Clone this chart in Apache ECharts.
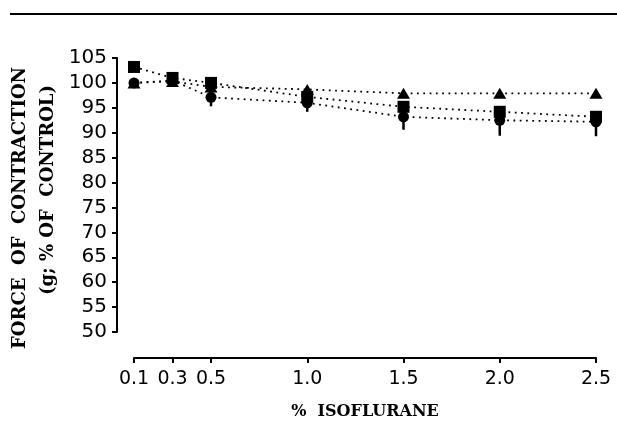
<!DOCTYPE html>
<html>
<head>
<meta charset="utf-8">
<script src="https://cdn.jsdelivr.net/npm/echarts@6/dist/echarts.min.js"></script>
<style>
  html, body { margin: 0; padding: 0; background: #fff; }
  #chart { width: 617px; height: 425px; }
</style>
</head>
<body>
<div id="chart"></div>
<script>
// isoflurane concentration (%)
var doses = [0.1, 0.3, 0.5, 1.0, 1.5, 2.0, 2.5];
var xTicks = [0.1, 0.3, 0.5, 1.0, 1.5, 2.0, 2.5];

// force of contraction, % of control
var squares   = [103.2, 101.0, 100.0, 97.2, 95.2, 94.2, 93.2];
var triangles = [100.0, 100.3, 99.2, 98.7, 97.9, 97.9, 97.9];
var circles   = [100.0, 100.5, 97.1, 96.0, 93.2, 92.5, 92.2];
// lower end of the error bars (drawn below the circles)
var errLow    = [null, null, 95.3, 94.2, 90.6, 89.4, 89.3];

function pairs(vals) {
    return doses.map(function (d, i) { return [d, vals[i]]; });
}

var errData = [];
doses.forEach(function (d, i) {
    if (errLow[i] != null) errData.push([d, circles[i], errLow[i]]);
});

var dotted = { color: '#000', width: 1.8, type: [1.8, 4.5] };

var chart = echarts.init(document.getElementById('chart'));

chart.setOption({
    backgroundColor: '#fff',
    animation: false,
    grid: { left: 134, right: 21, top: 58, bottom: 89 },
    xAxis: {
        type: 'value',
        min: 0.1,
        max: 2.5,
        offset: 26,
        name: '%  ISOFLURANE',
        nameLocation: 'middle',
        nameGap: 46,
        nameTextStyle: { fontFamily: 'DejaVu Serif', fontWeight: 'bold', fontSize: 16, color: '#000' },
        axisLine: { lineStyle: { color: '#000', width: 2 } },
        axisTick: { customValues: xTicks, length: 5, lineStyle: { color: '#000', width: 2 } },
        axisLabel: {
            customValues: xTicks,
            margin: 12,
            fontFamily: 'DejaVu Sans',
            fontSize: 19,
            color: '#000',
            formatter: function (v) { return v.toFixed(1); }
        },
        splitLine: { show: false }
    },
    yAxis: {
        type: 'value',
        min: 50,
        max: 105,
        interval: 5,
        offset: 17,
        axisLine: { show: true, lineStyle: { color: '#000', width: 2 } },
        axisTick: { show: true, length: 5, lineStyle: { color: '#000', width: 2 } },
        axisLabel: { margin: 10, fontFamily: 'DejaVu Sans', fontSize: 20, color: '#000' },
        splitLine: { show: false }
    },
    graphic: [
        {
            type: 'line',
            shape: { x1: 10, y1: 14, x2: 617, y2: 14 },
            style: { stroke: '#000', lineWidth: 2 }
        },
        {
            type: 'text', x: 20, y: 208, rotation: Math.PI / 2,
            style: {
                text: 'FORCE  OF  CONTRACTION', fill: '#000',
                font: 'bold 18px "DejaVu Serif"', textAlign: 'center', textVerticalAlign: 'middle'
            }
        },
        {
            type: 'text', x: 48, y: 190, rotation: Math.PI / 2,
            style: {
                text: '(g; % OF  CONTROL)', fill: '#000',
                font: 'bold 18px "DejaVu Serif"', textAlign: 'center', textVerticalAlign: 'middle'
            }
        }
    ],
    series: [
        {
            type: 'custom',
            z: 1,
            data: errData,
            renderItem: function (params, api) {
                var top = api.coord([api.value(0), api.value(1)]);
                var low = api.coord([api.value(0), api.value(2)]);
                return {
                    type: 'line',
                    shape: { x1: top[0], y1: top[1], x2: low[0], y2: low[1] },
                    style: { stroke: '#000', lineWidth: 2.5 }
                };
            }
        },
        {
            name: 'squares', type: 'line', z: 3,
            data: pairs(squares),
            symbol: 'rect', symbolSize: 12,
            itemStyle: { color: '#000' },
            lineStyle: dotted
        },
        {
            name: 'triangles', type: 'line', z: 3,
            data: pairs(triangles),
            symbol: 'triangle', symbolSize: [13, 11],
            itemStyle: { color: '#000' },
            lineStyle: dotted
        },
        {
            name: 'circles', type: 'line', z: 3,
            data: pairs(circles),
            symbol: 'circle', symbolSize: 11,
            itemStyle: { color: '#000' },
            lineStyle: dotted
        }
    ]
});
</script>
</body>
</html>
